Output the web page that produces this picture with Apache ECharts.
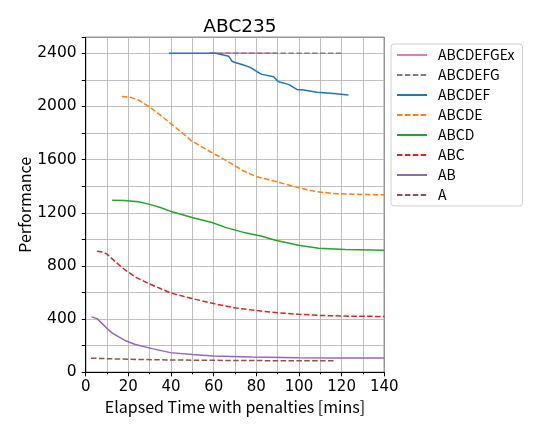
<!DOCTYPE html>
<html><head><meta charset="utf-8">
<script src="https://cdn.jsdelivr.net/npm/echarts@6/dist/echarts.min.js"></script>
<style>html,body{margin:0;padding:0;background:#fff}#c{width:540px;height:432px}</style>
</head><body><div id="c"></div>
<script>
const seriesNames = ["ABCDEFGEx","ABCDEFG","ABCDEF","ABCDE","ABCD","ABC","AB","A"];
const ABCDEFGEx_x = [58, 90];
const ABCDEFGEx_y = [2400, 2400];
const ABCDEFG_x = [58, 120];
const ABCDEFG_y = [2400, 2400];
const ABCDEF_x = [39, 61, 63, 65, 67, 68.6, 70, 74, 77.2, 80.3, 82.6, 88.1, 90.4, 95.1, 99, 102.2, 108.4, 116.2, 123.2];
const ABCDEF_y = [2400, 2400, 2392, 2385, 2378, 2340, 2330, 2312, 2294, 2261, 2241, 2223, 2185, 2166, 2128, 2123, 2106, 2098, 2086];
const ABCDE_x = [17, 21, 24.8, 29.5, 35, 39.7, 45, 49.1, 54, 58.4, 64, 69.4, 74, 80.3, 89.7, 99.1, 108.4, 117.8, 130, 140];
const ABCDE_y = [2075, 2068, 2048, 2000, 1935, 1873, 1805, 1747, 1700, 1659, 1610, 1559, 1514, 1471, 1433, 1391, 1358, 1343, 1338, 1335];
const ABCD_x = [12.4, 18, 24.8, 29.5, 35, 40.5, 49.9, 59.2, 65.5, 74.8, 82.6, 88.9, 99.8, 109.2, 121.7, 140];
const ABCD_y = [1295, 1293, 1283, 1265, 1240, 1207, 1165, 1127, 1090, 1049, 1024, 994, 956, 934, 924, 918];
const ABC_x = [5.3, 8, 10, 14, 18.6, 24, 29.5, 35, 39.7, 49.9, 60, 70.2, 80.3, 90.4, 99.8, 110.8, 125, 140];
const ABC_y = [911, 905, 889, 830, 768, 710, 668, 630, 597, 555, 517, 484, 464, 447, 437, 427, 422, 420];
const AB_x = [2.7, 5.3, 7.5, 10, 12.5, 15.5, 19, 23.3, 31.1, 39.7, 49.9, 60, 78, 99.8, 120, 140];
const AB_y = [417, 404, 370, 329, 295, 266, 235, 209, 178, 148, 133, 123, 115, 110, 108, 108];
const A_x = [2.5, 20, 40, 60, 80, 100, 117];
const A_y = [106, 98, 93, 90, 88, 87, 86];
const xTicks = [0, 20, 40, 60, 80, 100, 120, 140];
const yTicks = [0, 400, 800, 1200, 1600, 2000, 2400];

const xs = [ABCDEFGEx_x, ABCDEFG_x, ABCDEF_x, ABCDE_x, ABCD_x, ABC_x, AB_x, A_x];
const ys = [ABCDEFGEx_y, ABCDEFG_y, ABCDEF_y, ABCDE_y, ABCD_y, ABC_y, AB_y, A_y];
const colors = ["#e377c2","#7f7f7f","#1f77b4","#ff7f0e","#2ca02c","#d62728","#9467bd","#8c564b"];
const dashed = [false, true, false, true, false, true, false, true];
const FONT = "Noto Sans CJK JP";
const NUMFONT = "DejaVu Sans";

const series = seriesNames.map((n, i) => ({
  name: n, type: 'line', symbol: 'none', showSymbol: false, animation: false,
  data: xs[i].map((x, k) => [x, ys[i][k]]),
  lineStyle: { color: colors[i], width: 1.5, type: dashed[i] ? [5.5, 2.4] : 'solid' },
  itemStyle: { color: colors[i] }
}));

const chart = echarts.init(document.getElementById('c'));
chart.setOption({
  animation: false,
  textStyle: { fontFamily: FONT },
  title: { text: 'ABC235', left: 235, top: 13, textAlign: 'center',
    textStyle: { fontFamily: NUMFONT, fontSize: 18.5, fontWeight: 'normal', color: '#000' } },
  grid: { left: 85.7, right: 155.7, top: 37.3, bottom: 59.7, show: true, borderColor: '#000', borderWidth: 1, backgroundColor: 'transparent' },
  legend: {
    orient: 'vertical', left: 391, top: 44,
    data: seriesNames,
    itemWidth: 30, itemHeight: 14, itemGap: 6,
    padding: [4, 8, 4, 5],
    borderColor: '#d0d0d0', borderWidth: 1, borderRadius: 3,
    itemStyle: { opacity: 0 },
    textStyle: { fontFamily: FONT, fontSize: 14, color: '#000', padding: [0, 0, 0, 6] }
  },
  xAxis: {
    type: 'value', min: 0, max: 140, interval: 20,
    name: 'Elapsed Time with penalties [mins]', nameLocation: 'middle', nameGap: 26,
    nameTextStyle: { fontFamily: FONT, fontSize: 16, color: '#000' },
    axisLine: { show: true, lineStyle: { color: '#000', width: 1 } },
    axisTick: { show: true, length: 4, lineStyle: { color: '#000' } },
    minorTick: { show: true, splitNumber: 2, length: 2, lineStyle: { color: '#000' } },
    axisLabel: { fontFamily: NUMFONT, fontSize: 15, color: '#000', margin: 7,
      formatter: v => xTicks.includes(v) ? String(v) : '' },
    splitLine: { show: true, lineStyle: { color: '#b0b0b0', width: 0.8 } },
    minorSplitLine: { show: true, lineStyle: { color: '#b0b0b0', width: 0.8 } }
  },
  yAxis: {
    type: 'value', min: 0, max: 2520, interval: 200,
    name: 'Performance', nameLocation: 'middle', nameGap: 53, nameMoveOverlap: false,
    nameTextStyle: { fontFamily: FONT, fontSize: 16, color: '#000' },
    axisLine: { show: true, lineStyle: { color: '#000', width: 1 } },
    axisTick: { show: true, length: 4, lineStyle: { color: '#000' } },
    axisLabel: { fontFamily: NUMFONT, fontSize: 15.5, color: '#000', margin: 9,
      formatter: v => yTicks.includes(v) ? String(v) : '' },
    splitLine: { show: true, lineStyle: { color: '#b0b0b0', width: 0.8 } }
  },
  series: series
});
</script></body></html>
